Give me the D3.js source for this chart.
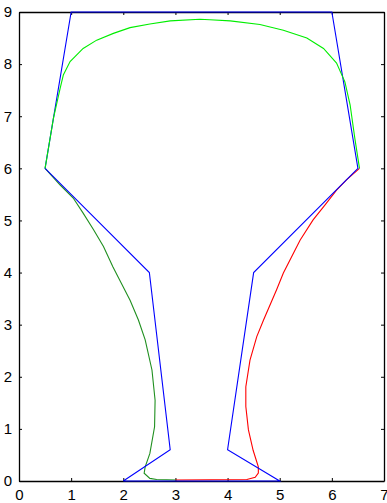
<!DOCTYPE html>
<html>
<head>
<meta charset="utf-8">
<script src="https://cdn.jsdelivr.net/npm/d3@7"></script>
<style>
  body { margin: 0; background: #fff; }
  .axis text { font-family: "Liberation Sans Narrow", "Liberation Sans", Arial, sans-serif; font-size: 15px; fill: #000; }
  .axis path, .axis line { stroke: #000; }
</style>
</head>
<body>
<svg id="chart"></svg>
<script>
// axis ticks
const xTicks = [0, 1, 2, 3, 4, 5, 6, 7];
const yTicks = [0, 1, 2, 3, 4, 5, 6, 7, 8, 9];

// blue control polygon
const polyX = [2, 2.9, 2.5, 0.5, 1, 6, 6.5, 4.5, 4, 5, 2];
const polyY = [0, 0.6, 4, 6, 9, 9, 6, 4, 0.6, 0, 0];

// bright green top curve
const topX = [0.5, 0.66, 0.79, 0.85, 0.98, 1.23, 1.49, 1.81, 2.13, 2.51, 2.9, 3.47, 3.66, 4.05, 4.62, 5.07, 5.52, 5.84, 6.09, 6.25, 6.35, 6.44, 6.53];
const topY = [6.0, 6.96, 7.54, 7.79, 8.05, 8.3, 8.46, 8.59, 8.7, 8.77, 8.83, 8.86, 8.85, 8.83, 8.76, 8.65, 8.5, 8.3, 8.02, 7.66, 7.22, 6.58, 6.0];

// dark green left curve
const leftX = [0.5, 0.79, 1.04, 1.23, 1.43, 1.62, 1.8, 1.95, 2.13, 2.29, 2.42, 2.55, 2.61, 2.6, 2.51, 2.42, 2.4, 2.51, 2.64, 3.02];
const leftY = [6.0, 5.68, 5.43, 5.14, 4.82, 4.5, 4.11, 3.82, 3.47, 3.09, 2.71, 2.13, 1.55, 1.04, 0.53, 0.27, 0.15, 0.05, 0.03, 0.02];

// red right curve
const rightX = [3.0, 4.37, 4.53, 4.59, 4.59, 4.49, 4.4, 4.35, 4.35, 4.43, 4.56, 4.69, 4.94, 5.07, 5.39, 5.64, 5.87, 6.09, 6.28, 6.53];
const rightY = [0.02, 0.03, 0.07, 0.15, 0.27, 0.59, 0.98, 1.43, 1.81, 2.32, 2.77, 3.09, 3.67, 3.99, 4.62, 5.01, 5.3, 5.58, 5.78, 6.0];

const config = {
  containerWidth: 387,
  containerHeight: 503,
  margin: {top: 12, right: 3, bottom: 22, left: 19}
};

const width = config.containerWidth - config.margin.left - config.margin.right;
const height = config.containerHeight - config.margin.top - config.margin.bottom;

const svg = d3.select('#chart')
    .attr('width', config.containerWidth)
    .attr('height', config.containerHeight);

const chart = svg.append('g')
    .attr('transform', `translate(${config.margin.left},${config.margin.top})`);

const xScale = d3.scaleLinear().domain([0, 7]).range([0, width]);
const yScale = d3.scaleLinear().domain([0, 9]).range([height, 0]);

// box axes, ticks pointing inward (matlab style)
const tickLen = 3;
const fmt = d3.format('d');
chart.append('g')
    .attr('class', 'axis x-axis')
    .attr('transform', `translate(0,${height})`)
    .call(d3.axisBottom(xScale).tickValues(xTicks).tickFormat(fmt).tickSize(-tickLen).tickSizeOuter(0).tickPadding(8));

chart.append('g')
    .attr('class', 'axis x-axis-top')
    .call(d3.axisTop(xScale).tickValues(xTicks).tickSize(-tickLen).tickSizeOuter(0).tickFormat(''));

chart.append('g')
    .attr('class', 'axis y-axis')
    .call(d3.axisLeft(yScale).tickValues(yTicks).tickFormat(fmt).tickSize(-tickLen).tickSizeOuter(0).tickPadding(7));

chart.append('g')
    .attr('class', 'axis y-axis-right')
    .attr('transform', `translate(${width},0)`)
    .call(d3.axisRight(yScale).tickValues(yTicks).tickSize(-tickLen).tickSizeOuter(0).tickFormat(''));

chart.selectAll('.axis .domain').attr('stroke-width', 1.3);

const line = d3.line()
    .x(d => xScale(d[0]))
    .y(d => yScale(d[1]));

const series = [
  {xs: leftX, ys: leftY, color: '#1f8f1f'},
  {xs: rightX, ys: rightY, color: '#ff0000'},
  {xs: polyX, ys: polyY, color: '#0000ff'},
  {xs: topX, ys: topY, color: '#00ee00'}
];

series.forEach(s => {
  chart.append('path')
      .datum(d3.zip(s.xs, s.ys))
      .attr('fill', 'none')
      .attr('stroke', s.color)
      .attr('stroke-width', 1.1)
      .attr('d', line);
});
</script>
</body>
</html>
